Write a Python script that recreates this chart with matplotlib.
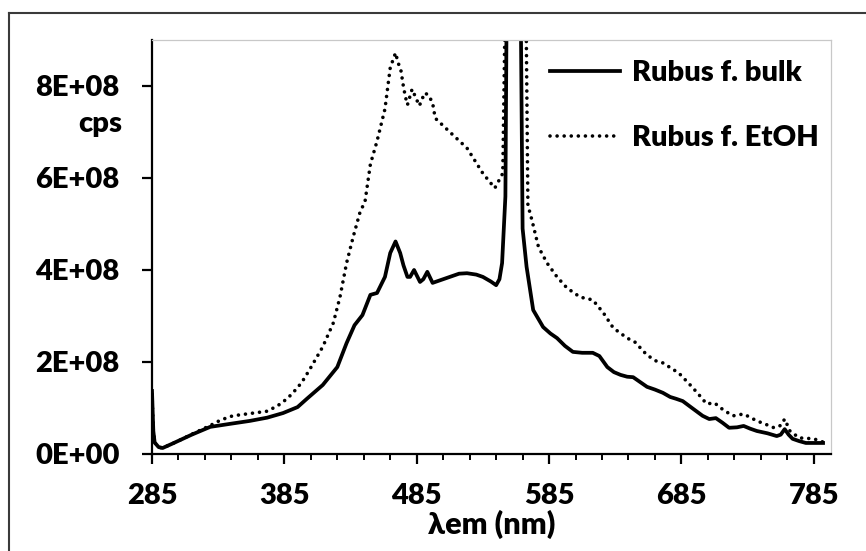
import matplotlib
matplotlib.use("Agg")
import matplotlib.pyplot as plt
from matplotlib.lines import Line2D
from matplotlib.ticker import FixedLocator

# ---------------- data ----------------
bulk_nm = [285, 286, 287, 290, 293, 300, 306, 315, 329, 345, 359, 372, 384, 395,
           402, 414, 425, 432, 438, 444, 450, 455, 461, 465, 469, 472.5, 475, 478,
           480, 483, 487.5, 490, 493, 497, 503, 510, 517, 523, 530, 535, 541, 545,
           547.5, 549.5, 552, 553, 558, 563.5, 565, 568, 573, 580.5, 586, 591, 597,
           603, 610, 618, 623, 629, 634, 639, 644, 648.5, 653, 659, 665, 671, 676.5,
           681, 686, 693, 701, 706, 711, 716, 721, 727, 732, 737, 742, 750, 757, 760,
           763, 766, 769, 774, 779, 785, 792]
bulk_cps = [1.37e8, 0.5e8, 0.25e8, 0.15e8, 0.13e8, 0.22e8, 0.30e8, 0.42e8, 0.59e8,
            0.66e8, 0.72e8, 0.79e8, 0.89e8, 1.02e8, 1.20e8, 1.50e8, 1.89e8, 2.41e8,
            2.80e8, 3.02e8, 3.46e8, 3.50e8, 3.85e8, 4.37e8, 4.62e8, 4.37e8, 4.10e8,
            3.85e8, 3.85e8, 4.00e8, 3.74e8, 3.80e8, 3.96e8, 3.72e8, 3.78e8, 3.85e8,
            3.92e8, 3.93e8, 3.90e8, 3.85e8, 3.75e8, 3.67e8, 3.80e8, 4.15e8, 5.60e8,
            1.0e9, 2.0e9, 1.0e9, 4.90e8, 4.07e8, 3.13e8, 2.76e8, 2.62e8, 2.52e8,
            2.35e8, 2.22e8, 2.20e8, 2.20e8, 2.13e8, 1.89e8, 1.78e8, 1.72e8, 1.68e8,
            1.67e8, 1.58e8, 1.46e8, 1.40e8, 1.33e8, 1.24e8, 1.20e8, 1.15e8, 1.00e8,
            0.83e8, 0.76e8, 0.78e8, 0.68e8, 0.57e8, 0.58e8, 0.61e8, 0.55e8, 0.50e8,
            0.45e8, 0.39e8, 0.42e8, 0.54e8, 0.42e8, 0.33e8, 0.28e8, 0.24e8, 0.24e8,
            0.24e8]

etoh_nm = [285, 286, 287, 290, 293, 300, 306, 315, 329, 337, 346, 359, 372, 380,
           387, 391.5, 398, 404, 414, 422, 427, 432, 437, 442, 446, 450, 455, 461,
           465, 469, 471, 473, 475, 476.5, 478, 481.5, 485, 487, 491, 494, 497, 499,
           510, 523, 535, 544, 550, 552, 558, 567.5, 569, 572, 577, 583.5, 591,
           598.5, 608.5, 618, 626, 633.5, 644, 650, 659, 666, 671, 683, 691, 697,
           704, 710, 717, 724, 732, 742, 750, 755, 760, 763, 767, 774, 780, 785, 792]
etoh_cps = [1.30e8, 0.5e8, 0.25e8, 0.15e8, 0.13e8, 0.22e8, 0.30e8, 0.43e8, 0.62e8,
            0.74e8, 0.83e8, 0.88e8, 0.93e8, 1.05e8, 1.20e8, 1.33e8, 1.55e8, 1.83e8,
            2.33e8, 2.85e8, 3.41e8, 4.15e8, 4.72e8, 5.24e8, 5.50e8, 6.30e8, 6.80e8,
            7.50e8, 8.40e8, 8.72e8, 8.50e8, 8.35e8, 7.98e8, 7.76e8, 7.59e8, 7.93e8,
            7.70e8, 7.57e8, 7.85e8, 7.80e8, 7.63e8, 7.30e8, 7.00e8, 6.65e8, 6.10e8,
            5.78e8, 6.10e8, 1.0e9, 2.0e9, 1.0e9, 5.41e8, 5.09e8, 4.50e8, 4.15e8,
            3.85e8, 3.61e8, 3.41e8, 3.35e8, 3.07e8, 2.74e8, 2.52e8, 2.43e8, 2.15e8,
            2.02e8, 1.98e8, 1.76e8, 1.52e8, 1.33e8, 1.09e8, 1.11e8, 0.95e8, 0.83e8,
            0.87e8, 0.72e8, 0.63e8, 0.57e8, 0.62e8, 0.76e8, 0.50e8, 0.35e8, 0.34e8,
            0.33e8, 0.26e8]

series_labels = ["Rubus f. bulk", "Rubus f. EtOH"]
y_ticks = [0, 2e8, 4e8, 6e8, 8e8]
y_tick_labels = ["0E+00", "2E+08", "4E+08", "6E+08", "8E+08"]
x_ticks = [285, 385, 485, 585, 685, 785]
x_tick_labels = ["285", "385", "485", "585", "685", "785"]
x_label = "λem (nm)"
y_unit = "cps"

# ---------------- style ----------------
FONT = ["Lato", "DejaVu Sans"]
WEIGHT = "heavy"
plt.rcParams["font.family"] = FONT
plt.rcParams["font.weight"] = WEIGHT
FS = 21

W, H = 866, 551
fig = plt.figure(figsize=(W / 100, H / 100), dpi=100)
L, R, T, B = 152, 831, 40, 454
ax = fig.add_axes([L / W, 1 - B / H, (R - L) / W, (B - T) / H])

ax.plot(bulk_nm, bulk_cps, color="black", lw=2.7, solid_joinstyle="round",
        label=series_labels[0])
ax.plot(etoh_nm, etoh_cps, color="black", lw=2.6, linestyle=(0, (0.01, 1.95)),
        dash_capstyle="round", label=series_labels[1])

ax.set_xlim(285, 798)
ax.set_ylim(0, 9e8)

ax.yaxis.set_major_locator(FixedLocator(y_ticks))
ax.set_yticklabels(y_tick_labels)
ax.xaxis.set_major_locator(FixedLocator(x_ticks))
ax.set_xticklabels(x_tick_labels)
ax.xaxis.set_minor_locator(FixedLocator(list(range(285, 799, 20))))

for s in ("left", "bottom"):
    ax.spines[s].set_linewidth(1.6)
    ax.spines[s].set_color("black")
for s in ("top", "right"):
    ax.spines[s].set_linewidth(0.9)
    ax.spines[s].set_color("#c8c8c8")

ax.tick_params(axis="both", which="major", direction="out", length=7.2, width=1.6,
               labelsize=FS, colors="black")
ax.tick_params(axis="x", which="minor", direction="out", length=4.3, width=1.4)
ax.tick_params(axis="y", which="major", pad=16)
ax.tick_params(axis="x", which="major", pad=14)
for lab in ax.get_xticklabels() + ax.get_yticklabels():
    lab.set_fontweight(WEIGHT)

fig.text(122 / W, 1 - 132 / H, y_unit, ha="right", va="baseline",
         fontsize=FS, fontweight=WEIGHT)
fig.text(491.5 / W, 1 - 524 / H, x_label, ha="center", va="center",
         fontsize=FS + 1, fontweight=WEIGHT)

leg = ax.legend(loc="upper left", bbox_to_anchor=(550 / W, 1 - 60 / H),
                bbox_transform=fig.transFigure, frameon=False, fontsize=FS,
                handlelength=2.4, handletextpad=0.41, borderpad=0,
                borderaxespad=0, labelspacing=1.33)
for t in leg.get_texts():
    t.set_fontweight(WEIGHT)

# outer frame (left & top edges visible)
fig.add_artist(Line2D([9 / W, 9 / W], [0, 1 - 13 / H], transform=fig.transFigure,
                      color="#3a3a3a", lw=1.5))
fig.add_artist(Line2D([9 / W, 1], [1 - 13 / H, 1 - 13 / H], transform=fig.transFigure,
                      color="#3a3a3a", lw=1.5))

fig.savefig("out.png", dpi=100, facecolor="white")
